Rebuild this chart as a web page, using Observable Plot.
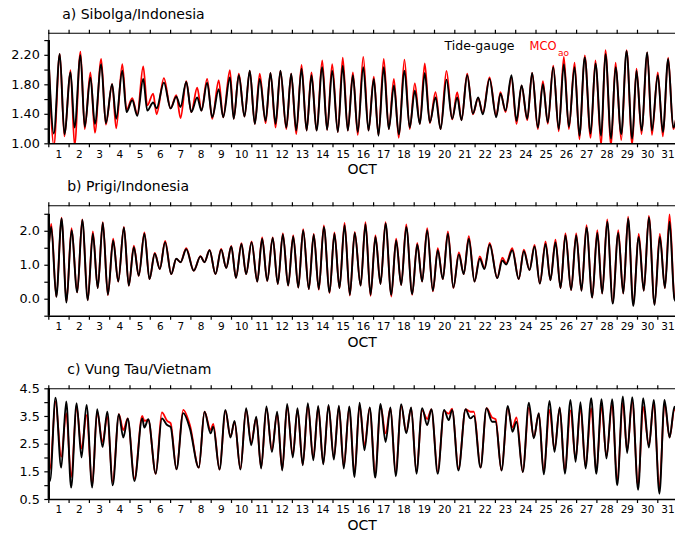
<!DOCTYPE html>
<html>
<head>
<meta charset="utf-8">
<script src="https://cdn.jsdelivr.net/npm/d3@7"></script>
<script src="https://cdn.jsdelivr.net/npm/@observablehq/plot@0.6"></script>
<style>
  html, body { margin: 0; padding: 0; background: #fff; overflow: hidden; }
  #chart { width: 675px; height: 533px; position: relative; overflow: hidden; }
  #chart svg { display: block; overflow: hidden; }
</style>
</head>
<body>
<div id="chart"></div>
<script>
// ---------- tick labels ----------
const dayLabels = [1,2,3,4,5,6,7,8,9,10,11,12,13,14,15,16,17,18,19,20,21,22,23,24,25,26,27,28,29,30,31];
const axisName = "OCT";
const legendGauge = "Tide-gauge";
const legendModel = "MCO";
const legendModelSub = "ao";

// ---------- a) Sibolga/Indonesia (times in day of October, extrema of the series) ----------
const sibolgaTime = [1.00,1.25,1.54,1.77,2.07,2.27,2.56,2.77,3.05,3.27,3.58,3.81,4.12,4.32,4.62,4.83,5.11,5.36,5.65,5.85,6.14,6.31,6.67,7.00,7.28,7.49,7.77,8.02,8.31,8.52,8.80,9.05,9.37,9.59,9.92,10.11,10.36,10.64,10.90,11.15,11.39,11.68,11.92,12.17,12.41,12.70,12.94,13.19,13.45,13.70,13.94,14.19,14.47,14.71,14.96,15.24,15.48,15.73,15.98,16.22,16.49,16.75,17.01,17.24,17.50,17.75,18.00,18.24,18.52,18.78,19.03,19.28,19.52,19.77,20.05,20.30,20.59,20.87,21.12,21.33,21.61,21.89,22.15,22.38,22.71,23.04,23.25,23.50,23.79,24.04,24.29,24.57,24.81,25.09,25.34,25.58,25.85,26.12,26.37,26.62,26.90,27.14,27.40,27.69,27.93,28.21,28.42,28.70,28.92,29.20,29.46,29.74,29.95,30.20,30.48,30.71,31.00,31.25,31.51,31.76,32.00];
const sibolgaGauge = [2.10,1.14,2.22,1.13,1.97,1.22,2.20,1.23,1.90,1.27, 2.08,1.28,1.81,1.34,1.99,1.43,1.59,1.38,1.88,1.45, 1.56,1.48,1.83,1.48,1.64,1.50,1.84,1.43,1.63,1.45, 1.83,1.36,1.74,1.36,1.90,1.34,1.93,1.37,1.99,1.27, 1.88,1.31,1.96,1.27,1.99,1.22,1.95,1.18,2.02,1.18, 1.93,1.18,2.04,1.19,1.99,1.16,2.06,1.18,1.93,1.16, 2.04,1.18,1.88,1.11,2.04,1.20,1.79,1.13,1.99,1.22, 1.72,1.27,1.96,1.29,1.63,1.20,1.87,1.34,1.63,1.32, 1.93,1.41,1.63,1.40,1.88,1.36,1.68,1.45,1.93,1.31, 1.79,1.34,1.96,1.22,1.81,1.29,2.04,1.20,2.08,1.23, 2.04,1.11,2.17,1.14,2.09,1.11,2.22,1.07,2.04,1.13, 2.26,1.07,1.99,1.18,2.24,1.18,1.93,1.16,2.15,1.22,1.50];
const sibolgaModel = [2.12,0.98,2.22,1.10,2.00,0.98,2.25,1.20,1.97,1.15, 2.15,1.26,1.81,1.21,2.08,1.46,1.62,1.40,2.05,1.52, 1.68,1.40,1.89,1.48,1.66,1.35,1.85,1.43,1.76,1.45, 1.88,1.34,1.86,1.36,2.00,1.34,1.95,1.37,1.99,1.27, 1.95,1.28,1.96,1.22,1.99,1.20,1.95,1.13,2.07,1.18, 1.97,1.18,2.13,1.19,2.08,1.16,2.17,1.18,1.97,1.12, 2.18,1.18,1.91,1.12,2.15,1.20,1.88,1.08,2.14,1.20, 1.82,1.27,2.09,1.28,1.70,1.20,1.99,1.33,1.70,1.32, 1.95,1.40,1.62,1.42,1.90,1.38,1.70,1.43,1.90,1.27, 1.79,1.32,1.96,1.20,1.85,1.27,2.06,1.17,2.18,1.20, 2.10,1.06,2.20,1.08,2.13,0.98,2.27,0.98,2.10,1.05, 2.27,0.99,2.02,1.13,2.24,1.12,1.97,1.10,2.17,1.20,1.56];
const sibolgaLabels = [1.00,1.40,1.80,2.20];
const sibolgaMinor = [1.0,1.2,1.4,1.6,1.8,2.0,2.2,2.4];

// ---------- b) Prigi/Indonesia ----------
const prigiTime = [1.00,1.12,1.37,1.63,1.87,2.12,2.40,2.65,2.92,3.17,3.41,3.66,3.91,4.17,4.42,4.70,4.94,5.19,5.43,5.71,5.96,6.22,6.47,6.73,7.03,7.28,7.49,7.77,8.14,8.47,8.67,8.92,9.21,9.49,9.74,9.99,10.22,10.49,10.72,10.99,11.27,11.51,11.76,12.03,12.28,12.53,12.79,13.04,13.29,13.53,13.81,14.05,14.30,14.55,14.83,15.07,15.32,15.57,15.83,16.07,16.36,16.60,16.85,17.09,17.34,17.59,17.87,18.11,18.36,18.61,18.90,19.15,19.39,19.64,19.92,20.16,20.41,20.66,20.93,21.20,21.44,21.69,21.97,22.23,22.46,22.72,23.09,23.34,23.53,23.83,24.15,24.40,24.68,24.93,25.19,25.47,25.71,25.96,26.21,26.45,26.73,26.98,27.24,27.49,27.77,28.02,28.26,28.51,28.78,29.05,29.30,29.54,29.79,30.06,30.31,30.56,30.84,31.10,31.35,31.58,31.82,32.00];
const prigiGauge = [1.53,2.13,0.07,2.38,-0.10,2.03,0.20,2.33,-0.03,1.93, 0.33,2.25,0.13,1.73,0.52,2.11,0.40,1.53,0.69,1.93, 0.59,1.34,0.89,1.68,0.74,1.19,1.09,1.47,0.84,1.26, 1.09,1.44,0.74,1.46,0.92,1.55,0.63,1.63,0.74,1.68, 0.52,1.78,0.54,1.80,0.45,1.91,0.40,1.85,0.34,2.03, 0.30,1.90,0.30,2.13,0.20,1.93,0.33,2.18,0.13,1.95, 0.40,2.21,0.13,1.83,0.45,2.23,0.13,1.73,0.42,2.13, 0.15,1.61,0.52,2.03,0.25,1.44,0.59,1.93,0.34,1.32, 0.74,1.78,0.52,1.19,0.89,1.61,0.62,1.14,1.02,1.44, 0.59,1.41,0.86,1.55,0.46,1.63,0.56,1.68,0.33,1.88, 0.27,1.88,0.25,2.11,0.05,1.95,0.17,2.28,-0.13,1.95, 0.17,2.38,-0.20,1.83,0.25,2.41,-0.17,1.83,0.33,2.28,0.00,-0.12];
const prigiModel = [1.55,2.22,0.07,2.40,-0.08,2.09,0.20,2.35,-0.02,2.00, 0.33,2.27,0.12,1.78,0.52,2.13,0.40,1.58,0.69,1.97, 0.59,1.36,0.89,1.72,0.74,1.19,1.09,1.50,0.84,1.27, 1.09,1.45,0.74,1.48,0.92,1.57,0.63,1.65,0.74,1.70, 0.52,1.82,0.54,1.82,0.45,1.94,0.40,1.88,0.34,2.06, 0.30,1.92,0.28,2.17,0.18,1.97,0.33,2.25,0.11,1.98, 0.40,2.27,0.10,1.88,0.45,2.27,0.08,1.78,0.42,2.20, 0.13,1.66,0.52,2.09,0.23,1.50,0.59,2.00,0.33,1.38, 0.74,1.86,0.52,1.26,0.92,1.66,0.62,1.22,1.06,1.50, 0.59,1.46,0.86,1.60,0.46,1.70,0.56,1.75,0.33,1.94, 0.27,1.94,0.25,2.18,0.05,2.03,0.17,2.35,-0.11,2.03, 0.17,2.43,-0.17,1.92,0.25,2.45,-0.15,1.92,0.33,2.50,0.05,-0.05];
const prigiLabels = [0.0,1.0,2.0];
const prigiMinor = [-0.5,0.0,0.5,1.0,1.5,2.0,2.5];

// ---------- c) Vung Tau/Vietnam ----------
const vungtauTime = [1.00,1.06,1.33,1.61,1.86,2.10,2.37,2.61,2.86,3.14,3.38,3.65,3.88,4.15,4.45,4.67,4.89,5.22,5.60,5.71,5.90,6.27,6.57,6.83,7.00,7.29,7.62,7.95,8.39,8.67,8.97,9.10,9.41,9.70,9.95,10.15,10.44,10.72,10.97,11.22,11.46,11.72,11.99,12.25,12.50,12.74,13.02,13.25,13.51,13.76,14.03,14.27,14.52,14.78,15.04,15.29,15.53,15.80,16.06,16.31,16.55,16.81,17.08,17.34,17.59,17.83,18.09,18.36,18.61,18.85,19.11,19.39,19.64,19.85,20.16,20.47,20.70,20.87,21.18,21.53,21.77,21.94,22.27,22.56,22.84,23.01,23.30,23.61,23.84,24.04,24.35,24.65,24.89,25.14,25.38,25.67,25.91,26.17,26.42,26.70,26.95,27.19,27.44,27.72,27.97,28.23,28.47,28.75,29.00,29.28,29.49,29.74,30.03,30.28,30.56,30.80,31.08,31.33,31.58,31.82,32.00];
const vungtauGauge = [1.37,1.17,4.18,1.65,4.04,0.93,3.98,2.02,3.92,0.93, 3.76,2.40,3.67,1.01,3.58,2.74,3.43,1.17,3.43,3.10, 3.40,1.43,3.43,3.19,3.12,1.59,3.62,3.07,1.65,3.67, 2.89,3.13,1.58,3.74,2.74,3.34,1.58,3.80,2.46,3.49, 1.62,3.86,2.22,3.67,1.55,3.95,2.02,3.80,1.74,3.98, 1.92,3.88,1.77,3.92,1.94,3.89,1.62,3.86,1.31,4.00, 2.28,3.83,1.29,3.95,2.58,3.83,1.34,3.94,2.89,3.83, 1.43,3.80,3.19,3.76,1.43,3.74,3.37,3.74,1.55,3.76, 3.43,3.52,1.65,3.80,3.31,3.31,1.55,3.88,2.95,3.31, 1.49,4.00,2.71,3.62,1.41,4.06,2.22,3.83,1.43,4.10, 1.86,4.02,1.62,4.16,1.43,4.12,1.98,4.12,1.01,4.22, 2.18,4.20,0.85,4.16,2.38,4.10,0.71,4.10,2.74,3.85,3.30];
const vungtauModel = [1.98,1.58,4.04,2.04,3.62,1.31,3.85,2.34,3.55,1.01, 3.67,2.58,3.49,1.13,3.58,3.01,3.43,1.25,3.52,3.34, 3.38,1.43,3.65,3.34,3.26,1.59,3.74,3.19,1.65,3.67, 3.01,3.23,1.58,3.70,2.77,3.30,1.60,3.75,2.55,3.45, 1.65,3.80,2.30,3.60,1.58,3.88,2.10,3.75,1.76,3.92, 1.98,3.84,1.80,3.88,2.00,3.85,1.68,3.82,1.45,3.92, 2.45,3.80,1.40,3.90,2.89,3.80,1.45,3.88,2.95,3.80, 1.50,3.72,3.41,3.76,1.50,3.70,3.60,3.78,1.60,3.76, 3.67,3.67,1.65,3.80,3.46,3.40,1.55,3.80,3.10,3.47, 1.50,3.83,2.75,3.60,1.50,3.74,2.30,3.80,1.50,3.72, 1.95,3.85,1.70,3.80,1.50,3.85,2.05,3.95,1.15,4.00, 2.25,4.05,1.00,3.85,2.45,3.95,0.90,3.98,2.75,3.75,3.35];
const vungtauLabels = [0.5,1.5,2.5,3.5,4.5];
const vungtauMinor = [0.5,1.0,1.5,2.0,2.5,3.0,3.5,4.0,4.5];

// ---------- drawing ----------
const FONT = "DejaVu Sans, Verdana, sans-serif";
const dayBounds = dayLabels.map(d => d);          // day boundaries 1..31
const LEFT = 48.3;
const noText = () => "";

function panel(cfg) {
  const rows = cfg.time.map((t, i) => ({t, g: cfg.gauge[i], m: cfg.model[i]}));
  const [y0, y1] = cfg.yDomain;
  const fmt = d3.format(cfg.fmt);
  const marks = [
    Plot.line(rows, {x: "t", y: "m", stroke: "#ff0000", strokeWidth: 1.8, curve: "monotone-x", clip: true}),
    Plot.line(rows, {x: "t", y: "g", stroke: "#000000", strokeWidth: 1.9, curve: "monotone-x", clip: true}),
    Plot.ruleY([y1], {stroke: "#000", strokeWidth: 1.1}),
    Plot.ruleY([y0], {stroke: "#000", strokeWidth: 1.5}),
    Plot.ruleX([1], {stroke: "#000", strokeWidth: 1}),
    Plot.ruleX([{x: 1, a: y0, b: cfg.axisTop}], {x: "x", y1: "a", y2: "b", stroke: "#000", strokeWidth: 2.4}),
    Plot.axisX({ticks: dayBounds, anchor: "bottom", tickSize: 4, tickFormat: noText, label: null, strokeWidth: 1.2}),
    Plot.axisX({ticks: dayBounds, anchor: "top", tickSize: 4, tickFormat: noText, label: null, strokeWidth: 1.2}),
    Plot.text(dayLabels, {x: d => d + 0.5, text: d => String(d), frameAnchor: "bottom", lineAnchor: "bottom", textAnchor: "middle", dy: 13.7, fontSize: 10.5, fill: "#000"}),
    Plot.text([axisName], {text: d => d, frameAnchor: "bottom", lineAnchor: "bottom", textAnchor: "middle", dy: 30.3, fontSize: 14, fill: "#000"}),
    Plot.axisY({ticks: cfg.minor, anchor: "left", tickSize: 4, tickFormat: noText, label: null, strokeWidth: 1.2}),
    Plot.text(cfg.labels, {y: d => d, text: d => fmt(d), frameAnchor: "left", textAnchor: "end", lineAnchor: "middle", dx: -9, fontSize: 12.8, fill: "#000"}),
    Plot.text([cfg.title], {text: d => d, frameAnchor: "top-left", textAnchor: "start", lineAnchor: "bottom", dx: cfg.titleDx, dy: -14.4, fontSize: 14, fill: "#000"})
  ];
  if (cfg.legend) {
    marks.push(
      Plot.text([legendGauge], {text: d => d, frameAnchor: "top-left", textAnchor: "start", lineAnchor: "bottom", dx: 444 - LEFT, dy: 16.6, fontSize: 12.5, fill: "#000"}),
      Plot.text([legendModel], {text: d => d, frameAnchor: "top-left", textAnchor: "start", lineAnchor: "bottom", dx: 529 - LEFT, dy: 16.6, fontSize: 11.5, fill: "#ff0000"}),
      Plot.text([legendModelSub], {text: d => d, frameAnchor: "top-left", textAnchor: "start", lineAnchor: "bottom", dx: 557.5 - LEFT, dy: 22.5, fontSize: 9, fill: "#ff0000"})
    );
  }
  return Plot.plot({
    width: 675,
    height: cfg.height,
    marginTop: cfg.mt,
    marginBottom: cfg.mb,
    marginLeft: LEFT,
    marginRight: 0,
    x: {domain: [1, 32], range: [LEFT, 677.6], axis: null},
    y: {domain: cfg.yDomain, axis: null},
    style: {fontFamily: FONT, fontSize: "13px", background: "#fff", color: "#000", overflow: "hidden"},
    marks
  });
}

const chart = document.getElementById("chart");
chart.append(panel({
  title: "a) Sibolga/Indonesia", titleDx: 13.4,
  time: sibolgaTime, gauge: sibolgaGauge, model: sibolgaModel,
  yDomain: [1.0, 2.5], labels: sibolgaLabels, minor: sibolgaMinor, axisTop: 2.4, fmt: ".2f",
  height: 177, mt: 32.7, mb: 33.7, legend: true
}));
chart.append(panel({
  title: "b) Prigi/Indonesia", titleDx: 18.4,
  time: prigiTime, gauge: prigiGauge, model: prigiModel,
  yDomain: [-0.5, 2.75], labels: prigiLabels, minor: prigiMinor, axisTop: 2.5, fmt: ".1f",
  height: 178, mt: 28.3, mb: 39.3
}));
chart.append(panel({
  title: "c) Vung Tau/Vietnam", titleDx: 18.4,
  time: vungtauTime, gauge: vungtauGauge, model: vungtauModel,
  yDomain: [0.5, 4.5], labels: vungtauLabels, minor: vungtauMinor, axisTop: 4.5, fmt: ".1f",
  height: 178, mt: 33.3, mb: 34
}));
</script>
</body>
</html>
